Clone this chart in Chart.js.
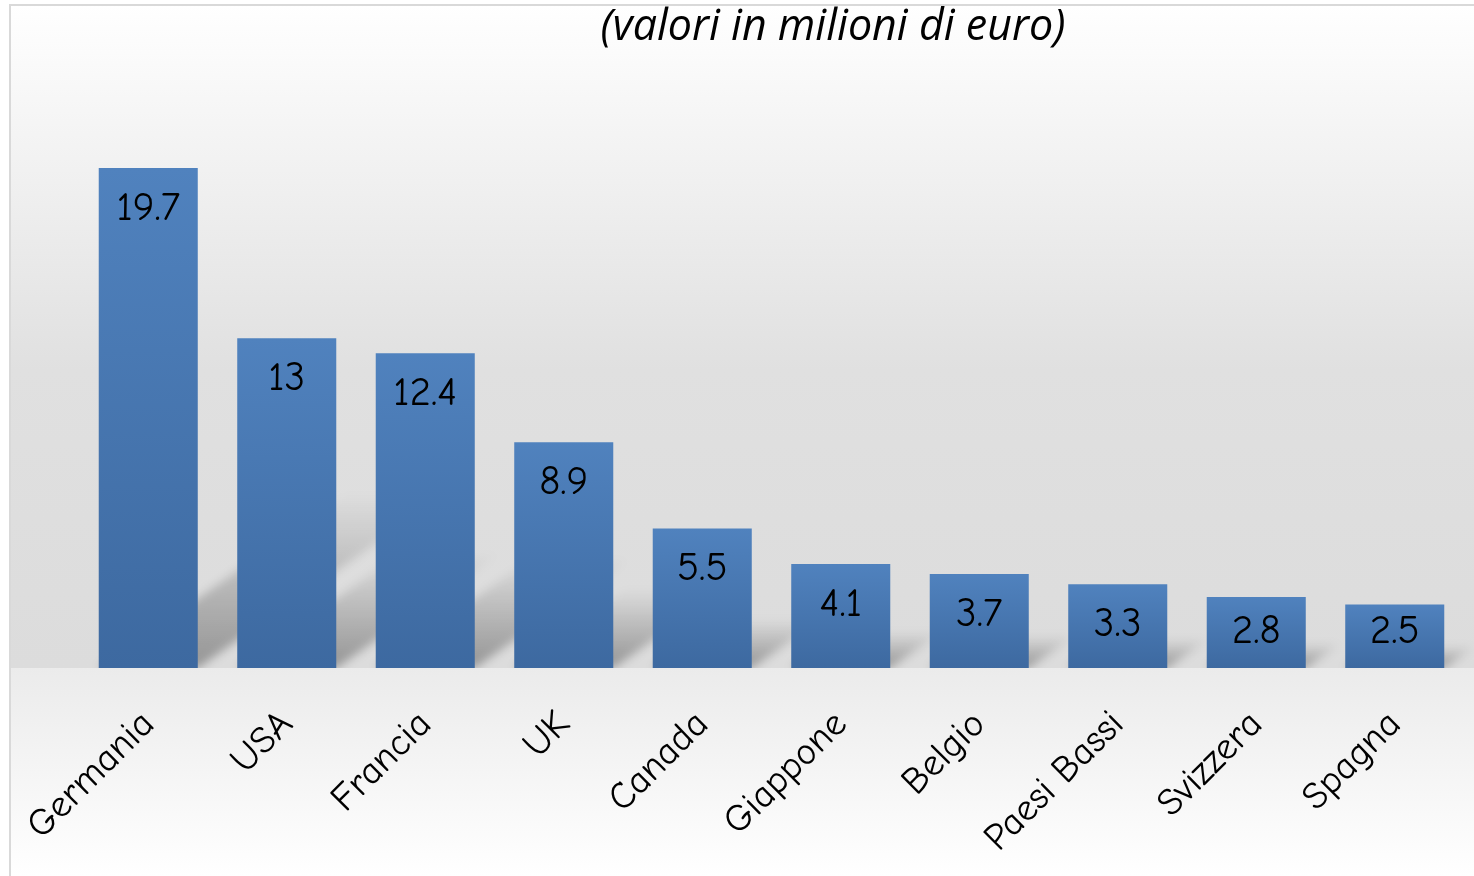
<!DOCTYPE html>
<html>
<head>
<meta charset="utf-8">
<title>Valori in milioni di euro</title>
<script src="https://cdn.jsdelivr.net/npm/chart.js@4.4.1/dist/chart.umd.min.js"></script>
<style>
    html, body { margin: 0; padding: 0; background: #fff; overflow: hidden; }
    #wrap { position: relative; width: 1474px; height: 876px; }
</style>
</head>
<body>
<div id="wrap"><canvas id="barChartPaesi"></canvas></div>
<script>
/*global Chart*/
'use strict';

// dati
var paesi  = ["Germania", "USA", "Francia", "UK", "Canada", "Giappone", "Belgio", "Paesi Bassi", "Svizzera", "Spagna"];
var valori = [19.7, 13, 12.4, 8.9, 5.5, 4.1, 3.7, 3.3, 2.8, 2.5];
var titolo = "(valori in milioni di euro)";
var yMin = 0,
    yMax = 24;

var fontComic = '"Comic Sans MS", "Comic Neue", "DejaVu Sans", sans-serif';
var blueTop = '#5082be',
    blueBottom = '#3d69a0';

// sfondo grigio sfumato + bordo del riquadro
var sfondo = {
    id: 'sfondo',
    beforeDraw: function (chart) {
        var ctx = chart.ctx,
            area = chart.chartArea,
            w = chart.width,
            h = chart.height;
        ctx.save();
        var g1 = ctx.createLinearGradient(0, 5, 0, area.bottom);
        g1.addColorStop(0, '#ffffff');
        g1.addColorStop(0.55, '#e0e0e0');
        g1.addColorStop(1, '#dcdcdc');
        ctx.fillStyle = g1;
        ctx.fillRect(10, 5, w, area.bottom - 5);
        var g2 = ctx.createLinearGradient(0, area.bottom, 0, h);
        g2.addColorStop(0, '#ebebeb');
        g2.addColorStop(1, '#ffffff');
        ctx.fillStyle = g2;
        ctx.fillRect(10, area.bottom, w, h - area.bottom);
        ctx.strokeStyle = '#d9d9d9';
        ctx.lineWidth = 2;
        ctx.strokeRect(10, 5, w + 20, h + 20);
        ctx.restore();
    }
};

// ombre prospettiche dietro le barre
var ombre = {
    id: 'ombre',
    beforeDatasetsDraw: function (chart) {
        var ctx = chart.ctx,
            area = chart.chartArea,
            meta = chart.getDatasetMeta(0);
        ctx.save();
        ctx.beginPath();
        ctx.rect(area.left - 80, area.top, area.right - area.left + 200, area.bottom - area.top);
        ctx.clip();
        ctx.filter = 'blur(5px)';
        meta.data.forEach(function (bar) {
            var x0 = bar.x - bar.width / 2,
                x1 = bar.x + bar.width / 2,
                base = bar.base,
                hh = base - bar.y,
                dx = hh * 0.5,
                dy = hh * 0.35;
            var g = ctx.createLinearGradient(0, base, 0, base - dy);
            g.addColorStop(0, 'rgba(0,0,0,0.32)');
            g.addColorStop(1, 'rgba(0,0,0,0)');
            ctx.fillStyle = g;
            ctx.beginPath();
            ctx.moveTo(x0, base);
            ctx.lineTo(x1, base);
            ctx.lineTo(x1 + dx, base - dy);
            ctx.lineTo(x0 + dx, base - dy);
            ctx.closePath();
            ctx.fill();
        });
        ctx.restore();
    }
};

// valori scritti dentro le barre
var etichette = {
    id: 'etichette',
    afterDatasetsDraw: function (chart) {
        var ctx = chart.ctx,
            meta = chart.getDatasetMeta(0);
        ctx.save();
        ctx.font = '41px ' + fontComic;
        ctx.fillStyle = '#000';
        ctx.textAlign = 'center';
        ctx.textBaseline = 'middle';
        meta.data.forEach(function (bar, i) {
            var y = Math.min(bar.y + 40, bar.base - 37);
            ctx.fillText(String(valori[i]), bar.x, y);
        });
        ctx.restore();
    }
};

// titolo in alto, spostato a destra come nell'originale
var titoloPlugin = {
    id: 'titoloPlugin',
    afterDraw: function (chart) {
        var ctx = chart.ctx;
        ctx.save();
        ctx.font = 'italic 43px "Open Sans", "Lato", sans-serif';
        ctx.fillStyle = '#000';
        ctx.textAlign = 'center';
        ctx.textBaseline = 'alphabetic';
        ctx.fillText(titolo, 833, 40);
        ctx.restore();
    }
};

var CANVAS = document.getElementById('barChartPaesi');

var barChartPaesi = new Chart(CANVAS, {
    type: 'bar',
    data: {
        labels: paesi,
        datasets: [
            {
                label: titolo,
                data: valori,
                backgroundColor: function (c) {
                    var chart = c.chart,
                        y = chart.scales.y;
                    if (!chart.chartArea || !y || c.raw === undefined) {
                        return blueTop;
                    }
                    var top = y.getPixelForValue(c.raw),
                        base = y.getPixelForValue(0);
                    var g = chart.ctx.createLinearGradient(0, top, 0, base);
                    g.addColorStop(0, blueTop);
                    g.addColorStop(1, blueBottom);
                    return g;
                },
                borderWidth: 0,
                categoryPercentage: 1,
                barPercentage: 0.715
            }
        ]
    },
    options: {
        responsive: true,
        maintainAspectRatio: false,
        animation: false,
        layout: {
            padding: { left: 79, right: 10, top: 59, bottom: 0 }
        },
        plugins: {
            legend: { display: false },
            title: { display: false },
            tooltip: { enabled: false }
        },
        scales: {
            x: {
                grid: { display: false, drawTicks: false },
                border: { display: false },
                afterFit: function (scale) {
                    scale.height = 208;
                    scale.paddingLeft = 0;
                    scale.paddingRight = 0;
                },
                ticks: {
                    autoSkip: false,
                    minRotation: 45,
                    maxRotation: 45,
                    padding: 34,
                    color: '#000',
                    font: { family: fontComic, size: 38 }
                }
            },
            y: {
                display: false,
                min: yMin,
                max: yMax
            }
        }
    },
    plugins: [sfondo, ombre, etichette, titoloPlugin]
});
</script>
</body>
</html>
